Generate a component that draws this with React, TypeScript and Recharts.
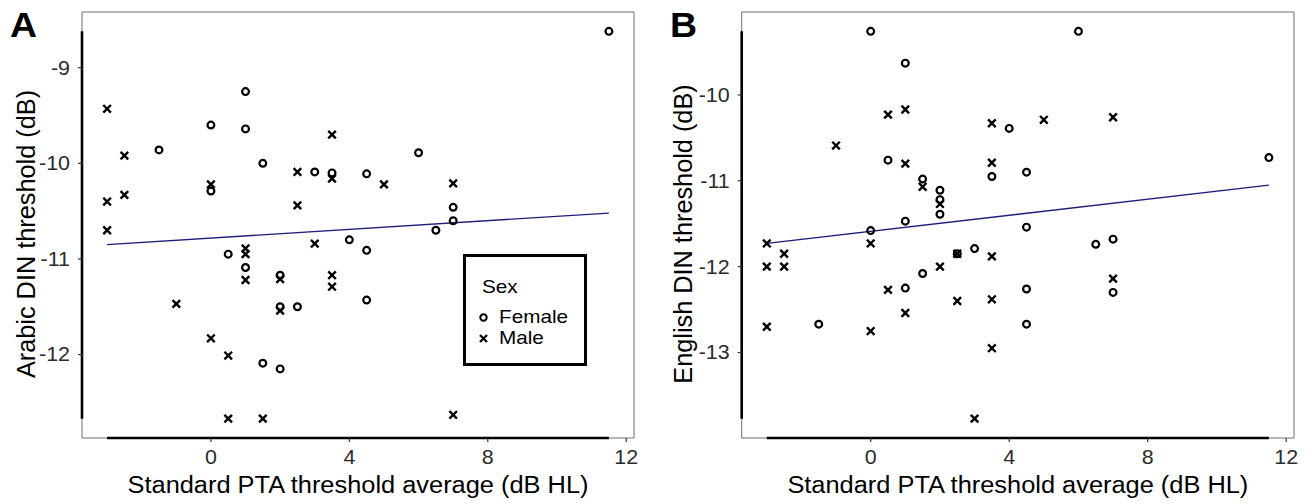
import React from 'react';
import {
  ScatterChart,
  Scatter,
  XAxis,
  YAxis,
  ReferenceLine,
  ReferenceArea,
  Legend,
} from 'recharts';

const font = '"Liberation Sans", Arial, Helvetica, sans-serif';
// the reference figure is slightly stretched horizontally, so text is widened a little
const stretch = 1.1;

// Panel A: Arabic DIN threshold vs standard PTA (x = PTA dB HL, y = DIN dB)
const femaleA: [number, number][] = [
  [-1.5, -9.86], [0, -9.6], [0, -10.29], [0.5, -10.95], [1, -9.25], [1, -9.64],
  [1, -11.09], [1.5, -10.0], [1.5, -12.09], [2, -11.17], [2, -11.5], [2, -12.15],
  [2.5, -11.5], [3, -10.09], [3.5, -10.1], [4, -10.8], [4.5, -10.11], [4.5, -10.91],
  [4.5, -11.43], [6, -9.89], [6.5, -10.7], [7, -10.46], [7, -10.6], [11.5, -8.62],
];
const maleA: [number, number][] = [
  [-3, -9.43], [-3, -10.4], [-3, -10.7], [-2.5, -9.92], [-2.5, -10.33], [-1, -11.47],
  [0, -10.22], [0, -11.83], [0.5, -12.01], [0.5, -12.67], [1, -10.89], [1, -10.95],
  [1, -11.22], [1.5, -12.67], [2, -11.21], [2, -11.54], [2.5, -10.09], [2.5, -10.44],
  [3, -10.84], [3.5, -9.7], [3.5, -10.16], [3.5, -11.17], [3.5, -11.29], [5, -10.22],
  [7, -10.21], [7, -12.63],
];
const fitA: [number, number][] = [[-3, -10.85], [11.5, -10.52]];

// Panel B: English DIN threshold vs standard PTA
const femaleB: [number, number][] = [
  [-1.5, -12.67], [0, -9.26], [0, -11.58], [0.5, -10.76], [1, -9.63], [1, -11.47],
  [1, -12.25], [1.5, -10.98], [1.5, -12.08], [2, -11.11], [2, -11.22], [2, -11.39],
  [2.5, -11.85], [3, -11.79], [3.5, -10.95], [4, -10.39], [4.5, -10.9], [4.5, -11.54],
  [4.5, -12.26], [4.5, -12.67], [6, -9.26], [6.5, -11.74], [7, -11.68], [7, -12.3],
  [11.5, -10.73],
];
const maleB: [number, number][] = [
  [-3, -11.73], [-3, -12.0], [-3, -12.7], [-2.5, -11.85], [-2.5, -12.0], [-1, -10.59],
  [0, -11.73], [0, -12.75], [0.5, -10.23], [0.5, -12.27], [1, -10.17], [1, -10.8],
  [1, -12.54], [1.5, -11.07], [2, -11.27], [2, -12.0], [2.5, -11.85], [2.5, -12.4],
  [3, -13.77], [3.5, -10.33], [3.5, -10.79], [3.5, -11.88], [3.5, -12.38], [3.5, -12.95],
  [5, -10.29], [7, -10.26], [7, -12.14],
];
const fitB: [number, number][] = [[-3, -11.73], [11.5, -11.05]];

const xTicks = [0, 4, 8, 12];
const yTicksA = [-12, -11, -10, -9];
const yTicksB = [-13, -12, -11, -10];
const sexLabels = ['Female', 'Male'];
const xTitle = 'Standard PTA threshold average (dB HL)';

const toPts = (a: [number, number][]) => a.map(([x, y]) => ({ x, y }));

// ggplot-like 5% expansion of the data range
const expand = (vals: number[]) => {
  const lo = Math.min(...vals);
  const hi = Math.max(...vals);
  const pad = (hi - lo) * 0.05;
  return [lo - pad, hi + pad] as [number, number];
};

const CircleShape = (p: any) => (
  <circle cx={p.cx} cy={p.cy} r={3.4} fill="none" stroke="#000" strokeWidth={2.2} />
);
const CrossShape = (p: any) => {
  const s = 3.8;
  return (
    <path
      d={`M${p.cx - s},${p.cy - s}L${p.cx + s},${p.cy + s}M${p.cx - s},${p.cy + s}L${p.cx + s},${p.cy - s}`}
      stroke="#000"
      strokeWidth={2.4}
      fill="none"
    />
  );
};

// stretched text helper
const SText = ({ x, y, size, anchor = 'start', dy, fill = '#000', weight, sx = stretch, children }: any) => (
  <g transform={`translate(${x},${y}) scale(${sx},1)`}>
    <text x={0} y={0} dy={dy} textAnchor={anchor} fontFamily={font} fontSize={size} fontWeight={weight} fill={fill}>
      {children}
    </text>
  </g>
);

const XTick = ({ x, y, payload }: any) => (
  <SText x={x} y={y} size={19.5} anchor="middle" dy="0.71em" fill="#2b2b2b">{payload.value}</SText>
);
const YTick = ({ x, y, payload }: any) => (
  <SText x={x} y={y} size={19.5} anchor="end" dy="0.355em" fill="#2b2b2b">{payload.value}</SText>
);

const XTitle = ({ viewBox }: any) => (
  <SText x={viewBox.x + viewBox.width / 2} y={viewBox.y + 55} size={23.3} anchor="middle" sx={1.09}>
    {xTitle}
  </SText>
);

const YTitle = ({ viewBox, text }: any) => {
  const cx = viewBox.x + 35;
  const cy = viewBox.y + viewBox.height / 2 + 9;
  return (
    <text
      x={cx}
      y={cy}
      transform={`rotate(-90 ${cx} ${cy})`}
      textAnchor="middle"
      fontFamily={font}
      fontSize={25.3}
      fill="#000"
    >
      {text}
    </text>
  );
};

const LegendBox = () => (
  <svg width={124} height={112} style={{ display: 'block' }}>
    <rect x={1.5} y={1.5} width={121} height={109} fill="#fff" stroke="#000" strokeWidth={3} />
    <SText x={19} y={39} size={17.7} sx={1.17}>Sex</SText>
    <circle cx={20.5} cy={63.5} r={3.2} fill="none" stroke="#000" strokeWidth={2} />
    <SText x={36} y={69} size={17.7} sx={1.17}>{sexLabels[0]}</SText>
    <path d="M17,81L24,88M17,88L24,81" stroke="#000" strokeWidth={2.2} />
    <SText x={36} y={89.5} size={17.7} sx={1.17}>{sexLabels[1]}</SText>
  </svg>
);

interface PanelProps {
  female: [number, number][];
  male: [number, number][];
  fit: [number, number][];
  yTicks: number[];
  yTitle: string;
  yAxisWidth: number;
  rightMargin: number;
  showLegend?: boolean;
}

const Panel: React.FC<PanelProps> = ({ female, male, fit, yTicks, yTitle, yAxisWidth, rightMargin, showLegend }) => {
  const all = [...female, ...male];
  const xs = all.map((p) => p[0]);
  const ys = all.map((p) => p[1]);
  const xDom = expand(xs);
  const yDom = expand(ys);

  return (
    <ScatterChart width={657} height={504} margin={{ top: 12, right: rightMargin, bottom: 0, left: 0 }}>
      <XAxis
        type="number"
        dataKey="x"
        domain={xDom}
        ticks={xTicks}
        allowDataOverflow
        axisLine={false}
        tickLine={{ stroke: '#333', strokeWidth: 1.2 }}
        tickSize={4}
        tickMargin={8}
        tick={<XTick />}
        height={66}
        label={<XTitle />}
      />
      <YAxis
        type="number"
        dataKey="y"
        domain={yDom}
        ticks={yTicks}
        allowDataOverflow
        axisLine={false}
        tickLine={{ stroke: '#333', strokeWidth: 1.2 }}
        tickSize={4}
        tickMargin={8}
        tick={<YTick />}
        width={yAxisWidth}
        label={<YTitle text={yTitle} />}
      />
      <ReferenceArea
        x1={xDom[0]}
        x2={xDom[1]}
        y1={yDom[0]}
        y2={yDom[1]}
        fill="none"
        stroke="#6e6e6e"
        strokeWidth={1}
        ifOverflow="visible"
      />
      <Scatter name="fit" data={toPts(fit)} line={{ stroke: '#1d1d78', strokeWidth: 1.3 }} shape={() => <g />} legendType="none" isAnimationActive={false} />
      <Scatter name={sexLabels[0]} data={toPts(female)} shape={CircleShape} isAnimationActive={false} />
      <Scatter name={sexLabels[1]} data={toPts(male)} shape={CrossShape} isAnimationActive={false} />
      {/* range frame */}
      <ReferenceLine
        segment={[{ x: Math.min(...xs), y: yDom[0] }, { x: Math.max(...xs), y: yDom[0] }]}
        stroke="#000"
        strokeWidth={2.6}
        ifOverflow="visible"
      />
      <ReferenceLine
        segment={[{ x: xDom[0], y: Math.min(...ys) }, { x: xDom[0], y: Math.max(...ys) }]}
        stroke="#000"
        strokeWidth={2.6}
        ifOverflow="visible"
      />
      {showLegend && (
        <Legend
          layout="horizontal"
          verticalAlign="middle"
          align="center"
          width={124}
          height={112}
          wrapperStyle={{ left: 462.7, top: 254, width: 124, height: 112 }}
          content={() => <LegendBox />}
        />
      )}
    </ScatterChart>
  );
};

const App: React.FC = () => (
  <div style={{ position: 'absolute', left: 0, top: 0, width: 1314, height: 504, background: '#fff', fontFamily: font }}>
    <div style={{ position: 'absolute', left: 0, top: 0 }}>
      <Panel
        female={femaleA}
        male={maleA}
        fit={fitA}
        yTicks={yTicksA}
        yTitle="Arabic DIN threshold (dB)"
        yAxisWidth={82}
        rightMargin={23}
        showLegend
      />
    </div>
    <div style={{ position: 'absolute', left: 657, top: 0 }}>
      <Panel
        female={femaleB}
        male={maleB}
        fit={fitB}
        yTicks={yTicksB}
        yTitle="English DIN threshold (dB)"
        yAxisWidth={84.7}
        rightMargin={20}
      />
    </div>
    <svg width={1314} height={504} style={{ position: 'absolute', left: 0, top: 0, pointerEvents: 'none' }}>
      <SText x={10} y={37} size={35} weight="bold" sx={1.07}>A</SText>
      <SText x={670} y={37} size={35} weight="bold" sx={1.07}>B</SText>
    </svg>
  </div>
);

export default App;
